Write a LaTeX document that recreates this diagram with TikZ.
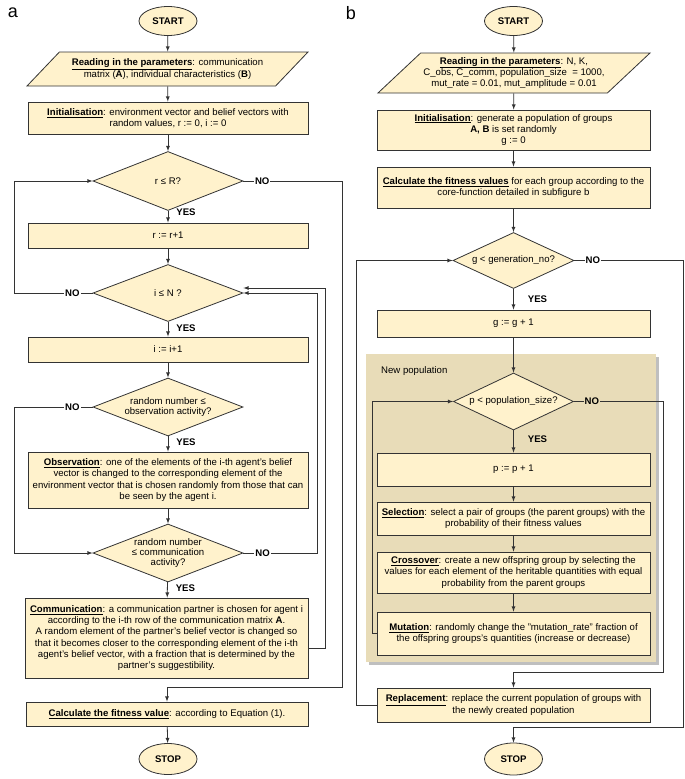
\documentclass[tikz,border=0pt]{standalone}
\usepackage{fontspec}
\setmainfont{Liberation Sans}
\usepackage{xcolor}
\usepackage{tikz}
\usetikzlibrary{shapes.geometric}
\usetikzlibrary{arrows,shapes,shadows}

\definecolor{boxfill}{HTML}{FFF2CC}
\definecolor{boxline}{HTML}{333333}
\definecolor{popfill}{HTML}{E8DCB8}

\tikzset{
  base/.style={draw=boxline, fill=boxfill, line width=0.8pt, align=center, inner sep=0pt,
    font=\fontsize{9.6}{11.3}\selectfont},
  term/.style={base, ellipse, minimum width=58pt, minimum height=29pt,
    font=\fontsize{9.6}{11.3}\selectfont\bfseries},
  proc/.style={base, rectangle},
  io/.style={base, trapezium, trapezium stretches body},
  cond/.style={base, diamond, aspect=2.6, font=\fontsize{9.6}{10.4}\selectfont},
  arr/.style={draw=boxline, line width=0.8pt, -latex},
  yes/.style={right, inner sep=0pt, xshift=8pt, font=\fontsize{9.6}{11.3}\selectfont\bfseries},
  no/.style={fill=white, inner sep=1pt, font=\fontsize{9.6}{11.3}\selectfont\bfseries},
  head/.style={font=\fontsize{18}{20}\selectfont}
}

\newcommand{\key}[1]{\underline{\textbf{#1}}}

\begin{document}
\begin{tikzpicture}[x=1pt, y=-1pt]
\useasboundingbox (0,0) rectangle (685,779);

\node[head] (ha) at (13,13) {a};
\node[head] (hb) at (351,13) {b};

\node[term] (a0) at (168,21) {START};

\node[io, trapezium left angle=32, trapezium right angle=148,
    minimum width=281pt, minimum height=34pt] (a1) at (167.5,69)
  {\key{Reading in the parameters}: communication\\
   matrix (\textbf{A}), individual characteristics (\textbf{B})};

\node[proc, minimum width=280pt, minimum height=32pt] (a2) at (168,118)
  {\key{Initialisation}: environment vector and belief vectors with\\
   random values, r := 0, i := 0};

\node[cond, minimum width=150pt, minimum height=59pt] (a3) at (168,181) {r ≤ R?};

\node[proc, minimum width=280pt, minimum height=25pt] (a4) at (168,235.5) {r := r+1};

\node[cond, minimum width=150pt, minimum height=57pt] (a5) at (168,293) {i ≤ N ?};

\node[proc, minimum width=280pt, minimum height=25pt] (a6) at (168,349.5) {i := i+1};

\node[cond, minimum width=150pt, minimum height=58pt] (a7) at (168,407)
  {random number ≤\\ observation activity?};

\node[proc, minimum width=280pt, minimum height=56pt] (a8) at (168,480)
  {\key{Observation}: one of the elements of the i-th agent's belief\\
   vector is changed to the corresponding element of the\\
   environment vector that is chosen randomly from those that can\\
   be seen by the agent i.};

\node[cond, minimum width=150pt, minimum height=58pt] (a9) at (168,553)
  {random number\\ ≤ communication\\ activity?};

\node[proc, minimum width=283pt, minimum height=80pt] (a10) at (166.5,638)
  {\key{Communication}: a communication partner is chosen for agent i\\
   according to the i-th row of the communication matrix \textbf{A}.\\
   A random element of the partner's belief vector is changed so\\
   that it becomes closer to the corresponding element of the i-th\\
   agent's belief vector, with a fraction that is determined by the\\
   partner's suggestibility.};

\node[proc, minimum width=282pt, minimum height=24pt] (a11) at (167,714)
  {\key{Calculate the fitness value}: according to Equation (1).};

\node[term, minimum height=31pt] (a12) at (168,759) {STOP};

\draw[arr] (a0) -- (a1);
\draw[arr] (a1) -- (a2);
\draw[arr] (a2) -- (a3);
\draw[arr] (a3) -- node[yes, pos=0.1] (y1) {YES} (a4);
\draw[arr] (a4) -- (a5);
\draw[arr] (a5) -- node[yes, pos=0.4] (y2) {YES} (a6);
\draw[arr] (a6) -- (a7);
\draw[arr] (a7) -- node[yes, pos=0.4] (y3) {YES} (a8);
\draw[arr] (a8) -- (a9);
\draw[arr] (a9) -- node[yes, pos=0.4] (y4) {YES} (a10);
\draw[arr] (a11) -- (a12);

\draw[arr] (a3.east) -- node[no, pos=0.19] (n1) {NO} ++(99,0) -- ++(0,506) -| (a11);
\draw[arr] (a5.west) -- node[no, pos=0.26] (n2) {NO} ++(-78,0) |- (a3.west);
\draw[arr] (a7.west) -- node[no, pos=0.26] (n3) {NO} ++(-78,0) |- (a9.west);
\draw[arr] (a9.east) -- node[no, pos=0.26] (n4) {NO} ++(74,0) |- (a5.east);
\draw[arr] ([yshift=-10pt]a10.east) -- ++(17,0) |- ([yshift=5pt]a5.east);

\node[fill=popfill, minimum width=290pt, minimum height=308pt, inner sep=0pt,
    drop shadow={shadow xshift=2.5pt, shadow yshift=-2.5pt, fill=black!25, opacity=1}]
  (np) at (511,508) {};
\node[anchor=west, inner sep=0pt, font=\fontsize{9.6}{11.3}\selectfont] (npl) at (381,371)
  {New population};

\node[term] (b0) at (513.5,21) {START};

\node[io, trapezium left angle=36.5, trapezium right angle=143.5,
    minimum width=272pt, minimum height=40pt] (b1) at (514,73)
  {\key{Reading in the parameters}: N, K,\\
   C\_obs, C\_comm, population\_size~ = 1000,\\
   mut\_rate = 0.01, mut\_amplitude = 0.01};

\node[proc, minimum width=273pt, minimum height=40pt] (b2) at (513.5,130)
  {\key{Initialisation}: generate a population of groups\\
   \textbf{A, B} is set randomly\\
   g := 0};

\node[proc, minimum width=273pt, minimum height=41pt] (b3) at (513.5,187.5)
  {\key{Calculate the fitness values} for each group according to the\\
   core-function detailed in subfigure b};

\node[cond, aspect=2.15, minimum width=121pt, minimum height=56pt] (b4) at (513.5,260.5) {g < generation\_no?};

\node[proc, minimum width=273pt, minimum height=27pt] (b5) at (513.5,323.5) {g := g + 1};

\node[cond, aspect=2.1, minimum width=120pt, minimum height=57pt] (b6) at (513.5,401.5) {p < population\_size?};

\node[proc, minimum width=273pt, minimum height=33pt] (b7) at (513.5,469.5) {p := p + 1};

\node[proc, minimum width=273pt, minimum height=33pt] (b8) at (513.5,518.5)
  {\key{Selection}: select a pair of groups (the parent groups) with the\\
   probability of their fitness values};

\node[proc, minimum width=273pt, minimum height=41pt] (b9) at (513.5,572.5)
  {\key{Crossover}: create a new offspring group by selecting the\\
   values for each element of the heritable quantities with equal\\
   probability from the parent groups};

\node[proc, minimum width=273pt, minimum height=43pt] (b10) at (513.5,633.5)
  {\key{Mutation}: randomly change the "mutation\_rate" fraction of\\
   the offspring groups's quantities (increase or decrease)};

\node[proc, minimum width=273pt, minimum height=34pt] (b11) at (513.5,705)
  {\key{Replacement}: replace the current population of groups with\\
   the newly created population};

\node[term, minimum height=32pt] (b12) at (513.5,759) {STOP};

\draw[arr] (b0) -- (b1);
\draw[arr] (b1) -- (b2);
\draw[arr] (b2) -- (b3);
\draw[arr] (b3) -- (b4);
\draw[arr] (b4) -- node[yes, pos=0.5, xshift=6pt] (y5) {YES} (b5);
\draw[arr] (b5) -- (b6);
\draw[arr] (b6) -- node[yes, pos=0.4, xshift=6pt] (y6) {YES} (b7);
\draw[arr] (b7) -- (b8);
\draw[arr] (b8) -- (b9);
\draw[arr] (b9) -- (b10);

\draw[arr] (b4.east) -- node[no, pos=0.17] (n5) {NO} ++(109,0) -- ++(0,466.5) -| (b12);
\draw[arr] (b6.east) -- node[no, pos=0.2, fill=popfill] (n6) {NO} ++(89.5,0) -- ++(0,270.5) -| (b11);
\draw[arr] (b10.west) -- ++(-4,0) |- (b6.west);
\draw[arr] (b11.west) -- ++(-20,0) |- (b4.west);

\end{tikzpicture}
\end{document}
